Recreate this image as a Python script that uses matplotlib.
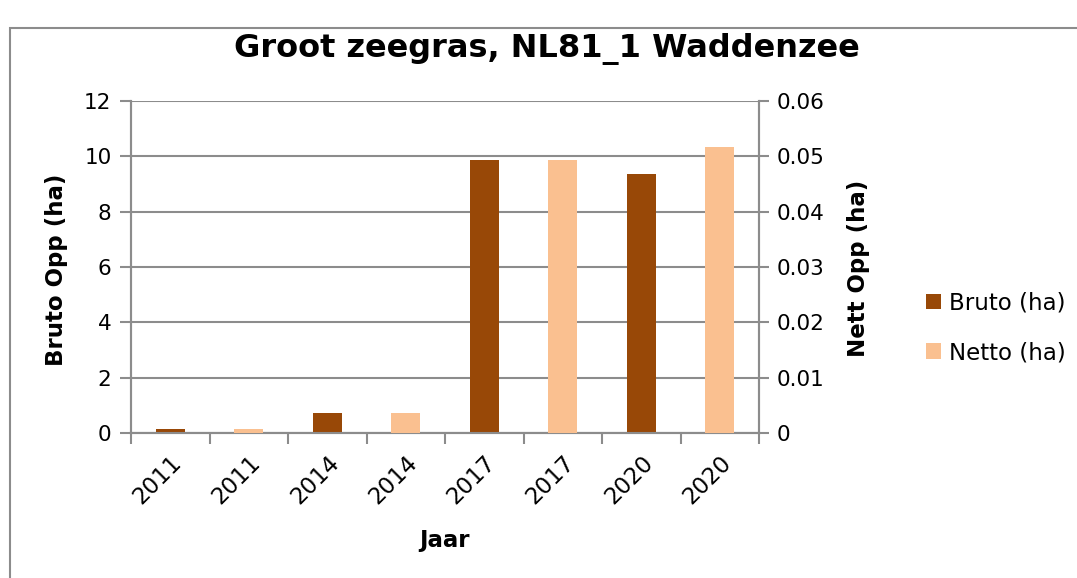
import matplotlib.pyplot as plt
from matplotlib.patches import Rectangle

years = ['2011', '2011', '2014', '2014', '2017', '2017', '2020', '2020']
bruto = [0.15, 0, 0.71, 0, 9.85, 0, 9.36, 0]
netto = [0, 0.00075, 0, 0.00355, 0, 0.0493, 0, 0.0516]

W, H = 1077, 578
fig = plt.figure(figsize=(W / 100, H / 100), dpi=100)
plt.rcParams['font.family'] = 'DejaVu Sans'
grey = '#8c8c8c'

# outer chart frame (right/bottom edges fall outside the picture)
fig.patches.append(Rectangle((10 / W, -0.1), 1.2, (H - 28) / H + 0.1,
                             transform=fig.transFigure, fill=False,
                             edgecolor=grey, lw=1.5))

ax = fig.add_axes([131 / W, (H - 433) / H, 628 / W, 332 / H])
ax2 = ax.twinx()
x = range(len(years))
ax.bar(x, bruto, width=0.37, color='#984807', linewidth=0, label='Bruto (ha)', zorder=3)
ax2.bar(x, netto, width=0.37, color='#FAC090', linewidth=0, label='Netto (ha)', zorder=3)

ax.set_ylim(0, 12)
ax2.set_ylim(0, 0.06)
ax.set_xlim(-0.5, len(years) - 0.5)
ax.set_yticks(range(0, 13, 2))
ax2.set_yticks([0, 0.01, 0.02, 0.03, 0.04, 0.05, 0.06])
ax2.set_yticklabels(['0', '0.01', '0.02', '0.03', '0.04', '0.05', '0.06'])
ax.grid(axis='y', color=grey, lw=1.5, zorder=0)
ax.set_axisbelow(True)

ax.set_xticks(list(x))
ax.set_xticklabels(years, rotation=45, ha='right', rotation_mode='anchor')
ax.set_xticks([i - 0.5 for i in range(len(years) + 1)], minor=True)
ax.tick_params(axis='x', which='major', length=0, labelsize=16.5, pad=13)
ax.tick_params(axis='x', which='minor', length=8, color=grey, width=1.5, direction='out')
ax.tick_params(axis='y', length=8, color=grey, width=1.5, labelsize=15.5, pad=6)
ax2.tick_params(axis='y', length=7, color=grey, width=1.5, labelsize=15.5, pad=6)

for a in (ax, ax2):
    a.spines['top'].set_visible(False)
    for s in ('left', 'right', 'bottom'):
        a.spines[s].set_color(grey)
        a.spines[s].set_linewidth(1.5)
ax2.patch.set_visible(False)

fig.text(547 / W, 1 - 49 / H, 'Groot zeegras, NL81_1 Waddenzee', ha='center', va='center',
         fontsize=23, fontweight='bold')
fig.text(57 / W, 1 - 270 / H, 'Bruto Opp (ha)', rotation=90, ha='center', va='center',
         fontsize=16.5, fontweight='bold')
fig.text(858 / W, 1 - 268 / H, 'Nett Opp (ha)', rotation=90, ha='center', va='center',
         fontsize=16.5, fontweight='bold')
fig.text(445 / W, 1 - 541 / H, 'Jaar', ha='center', va='center',
         fontsize=16.5, fontweight='bold')

h1, l1 = ax.get_legend_handles_labels()
h2, l2 = ax2.get_legend_handles_labels()
fig.legend(h1 + h2, l1 + l2, loc='center left', bbox_to_anchor=(905 / W, 1 - 328 / H),
           frameon=False, fontsize=16.5, handlelength=0.65, handleheight=0.65,
           handletextpad=0.35, labelspacing=1.15)

fig.savefig('out.png', dpi=100)
